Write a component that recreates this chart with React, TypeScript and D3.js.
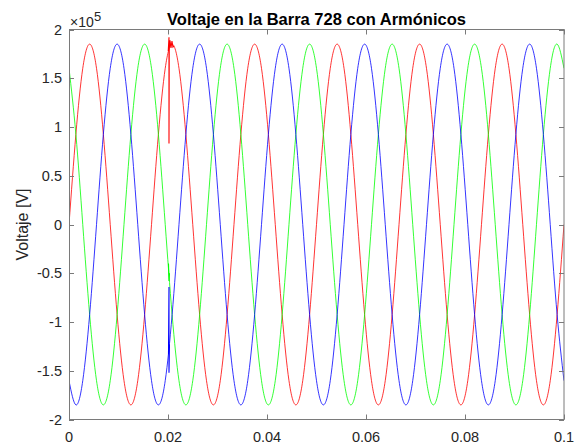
import React from "react";
import * as d3 from "d3";

const W = 579;
const H = 444;

const TITLE = "Voltaje en la Barra 728 con Armónicos";
const Y_LABEL = "Voltaje [V]";
const EXPONENT = 5;

const xTicks = [0, 0.02, 0.04, 0.06, 0.08, 0.1];
const xTickLabels = ["0", "0.02", "0.04", "0.06", "0.08", "0.1"];
const yTicks = [-2e5, -1.5e5, -1e5, -0.5e5, 0, 0.5e5, 1e5, 1.5e5, 2e5];
const yTickLabels = ["-2", "-1.5", "-1", "-0.5", "0", "0.5", "1", "1.5", "2"];

// time samples [s]
const time = [
  0, 0.00139, 0.00278, 0.00417, 0.00556, 0.00694, 0.00833, 0.00972, 0.01111, 0.0125, 0.01389, 0.01528,
  0.01667, 0.01806, 0.01944, 0.02083, 0.02222, 0.02361, 0.025, 0.02639, 0.02778, 0.02917, 0.03056, 0.03194,
  0.03333, 0.03472, 0.03611, 0.0375, 0.03889, 0.04028, 0.04167, 0.04306, 0.04444, 0.04583, 0.04722, 0.04861,
  0.05, 0.05139, 0.05278, 0.05417, 0.05556, 0.05694, 0.05833, 0.05972, 0.06111, 0.0625, 0.06389, 0.06528,
  0.06667, 0.06806, 0.06944, 0.07083, 0.07222, 0.07361, 0.075, 0.07639, 0.07778, 0.07917, 0.08056, 0.08194,
  0.08333, 0.08472, 0.08611, 0.0875, 0.08889, 0.09028, 0.09167, 0.09306, 0.09444, 0.09583, 0.09722, 0.09861,
  0.1,
];

// phase voltages [V]
const phaseA = [
  0, 92500, 160200, 185000, 160200, 92500, 0, -92500, -160200, -185000, -160200, -92500,
  0, 92500, 160200, 185000, 160200, 92500, 0, -92500, -160200, -185000, -160200, -92500,
  0, 92500, 160200, 185000, 160200, 92500, 0, -92500, -160200, -185000, -160200, -92500,
  0, 92500, 160200, 185000, 160200, 92500, 0, -92500, -160200, -185000, -160200, -92500,
  0, 92500, 160200, 185000, 160200, 92500, 0, -92500, -160200, -185000, -160200, -92500,
  0, 92500, 160200, 185000, 160200, 92500, 0, -92500, -160200, -185000, -160200, -92500,
  0,
];
const phaseB = [
  160200, 92500, 0, -92500, -160200, -185000, -160200, -92500, 0, 92500, 160200, 185000,
  160200, 92500, 0, -92500, -160200, -185000, -160200, -92500, 0, 92500, 160200, 185000,
  160200, 92500, 0, -92500, -160200, -185000, -160200, -92500, 0, 92500, 160200, 185000,
  160200, 92500, 0, -92500, -160200, -185000, -160200, -92500, 0, 92500, 160200, 185000,
  160200, 92500, 0, -92500, -160200, -185000, -160200, -92500, 0, 92500, 160200, 185000,
  160200, 92500, 0, -92500, -160200, -185000, -160200, -92500, 0, 92500, 160200, 185000,
  160200,
];
const phaseC = [
  -160200, -185000, -160200, -92500, 0, 92500, 160200, 185000, 160200, 92500, 0, -92500,
  -160200, -185000, -160200, -92500, 0, 92500, 160200, 185000, 160200, 92500, 0, -92500,
  -160200, -185000, -160200, -92500, 0, 92500, 160200, 185000, 160200, 92500, 0, -92500,
  -160200, -185000, -160200, -92500, 0, 92500, 160200, 185000, 160200, 92500, 0, -92500,
  -160200, -185000, -160200, -92500, 0, 92500, 160200, 185000, 160200, 92500, 0, -92500,
  -160200, -185000, -160200, -92500, 0, 92500, 160200, 185000, 160200, 92500, 0, -92500,
  -160200,
];

// transient near t = 0.02 s
const transientTimeA = [0.02005, 0.0202, 0.0202, 0.02025, 0.0204, 0.0206, 0.0208, 0.021, 0.0212];
const transientA = [178000, 192000, 83000, 180000, 189000, 181000, 188000, 182000, 183000];
const transientTimeB = [0.0201, 0.0202, 0.0203];
const transientB = [-40000, -58000, -50000];
const transientTimeC = [0.0201, 0.0202, 0.0202, 0.0203];
const transientC = [-133000, -64000, -152000, -123000];

const seriesColors = ["#ff0000", "#00ff00", "#0000ff"];

export default function App() {
  const left = 69;
  const right = 564;
  const top = 29.5;
  const bottom = 419.5;

  const x = d3.scaleLinear().domain([0, 0.1]).range([left, right]);
  const y = d3.scaleLinear().domain([-2e5, 2e5]).range([bottom, top]);

  const smooth = d3
    .line<number>()
    .x((_, i) => x(time[i]))
    .y((d) => y(d))
    .curve(d3.curveNatural);

  const mk = (ts: number[], vs: number[]) =>
    d3
      .line<number>()
      .x((_, i) => x(ts[i]))
      .y((d) => y(d))(vs) || "";

  const series = [phaseA, phaseB, phaseC];
  const transients = [
    [transientTimeA, transientA],
    [transientTimeB, transientB],
    [transientTimeC, transientC],
  ];

  const axisColor = "#7a7a7a";
  const textColor = "#262626";
  const tickLen = 5;
  const font = "'Liberation Sans', Arial, Helvetica, sans-serif";

  return (
    <svg
      width={W}
      height={H}
      style={{ position: "absolute", left: 0, top: 0, background: "#fff" }}
      fontFamily={font}
    >
      <defs>
        <clipPath id="plotClip">
          <rect x={left} y={top} width={right - left} height={bottom - top} />
        </clipPath>
      </defs>
      <rect x={0} y={0} width={W} height={H} fill="#fff" />

      <g clipPath="url(#plotClip)" fill="none" strokeWidth={0.8}>
        {series.map((s, i) => (
          <path key={i} d={smooth(s) || ""} stroke={seriesColors[i]} />
        ))}
        {transients.map(([ts, vs], i) => (
          <path key={"t" + i} d={mk(ts, vs)} stroke={seriesColors[i]} strokeWidth={1.1} />
        ))}
      </g>

      {/* box */}
      <rect
        x={left + 0.5}
        y={top}
        width={right - left - 0.5}
        height={bottom - top}
        fill="none"
        stroke={axisColor}
        strokeWidth={1}
      />

      {/* x ticks */}
      {xTicks.map((t, i) => {
        const px = Math.round(x(t)) + 0.5;
        return (
          <g key={"xt" + i}>
            <line x1={px} x2={px} y1={bottom} y2={bottom - tickLen} stroke={axisColor} />
            <line x1={px} x2={px} y1={top} y2={top + tickLen} stroke={axisColor} />
            <text x={x(t)} y={bottom + 22} textAnchor="middle" fontSize={14.5} fill={textColor}>
              {xTickLabels[i]}
            </text>
          </g>
        );
      })}

      {/* y ticks */}
      {yTicks.map((v, i) => {
        const py = Math.round(y(v)) + 0.5;
        return (
          <g key={"yt" + i}>
            <line x1={left} x2={left + tickLen} y1={py} y2={py} stroke={axisColor} />
            <line x1={right} x2={right - tickLen} y1={py} y2={py} stroke={axisColor} />
            <text
              x={left - 7}
              y={y(v)}
              dy="0.36em"
              textAnchor="end"
              fontSize={14.5}
              fill={textColor}
            >
              {yTickLabels[i]}
            </text>
          </g>
        );
      })}

      {/* exponent */}
      <text x={left + 1} y={27} fontSize={14} fill={textColor}>
        ×10
      </text>
      <text x={left + 25} y={21} fontSize={13} fill={textColor}>
        {EXPONENT}
      </text>

      {/* title */}
      <text
        x={(left + right) / 2}
        y={25}
        textAnchor="middle"
        fontSize={16.5}
        fontWeight="bold"
        fill="#000"
      >
        {TITLE}
      </text>

      {/* y label */}
      <text
        transform={`translate(${28},${(top + bottom) / 2}) rotate(-90)`}
        textAnchor="middle"
        fontSize={16}
        fill={textColor}
      >
        {Y_LABEL}
      </text>
    </svg>
  );
}
